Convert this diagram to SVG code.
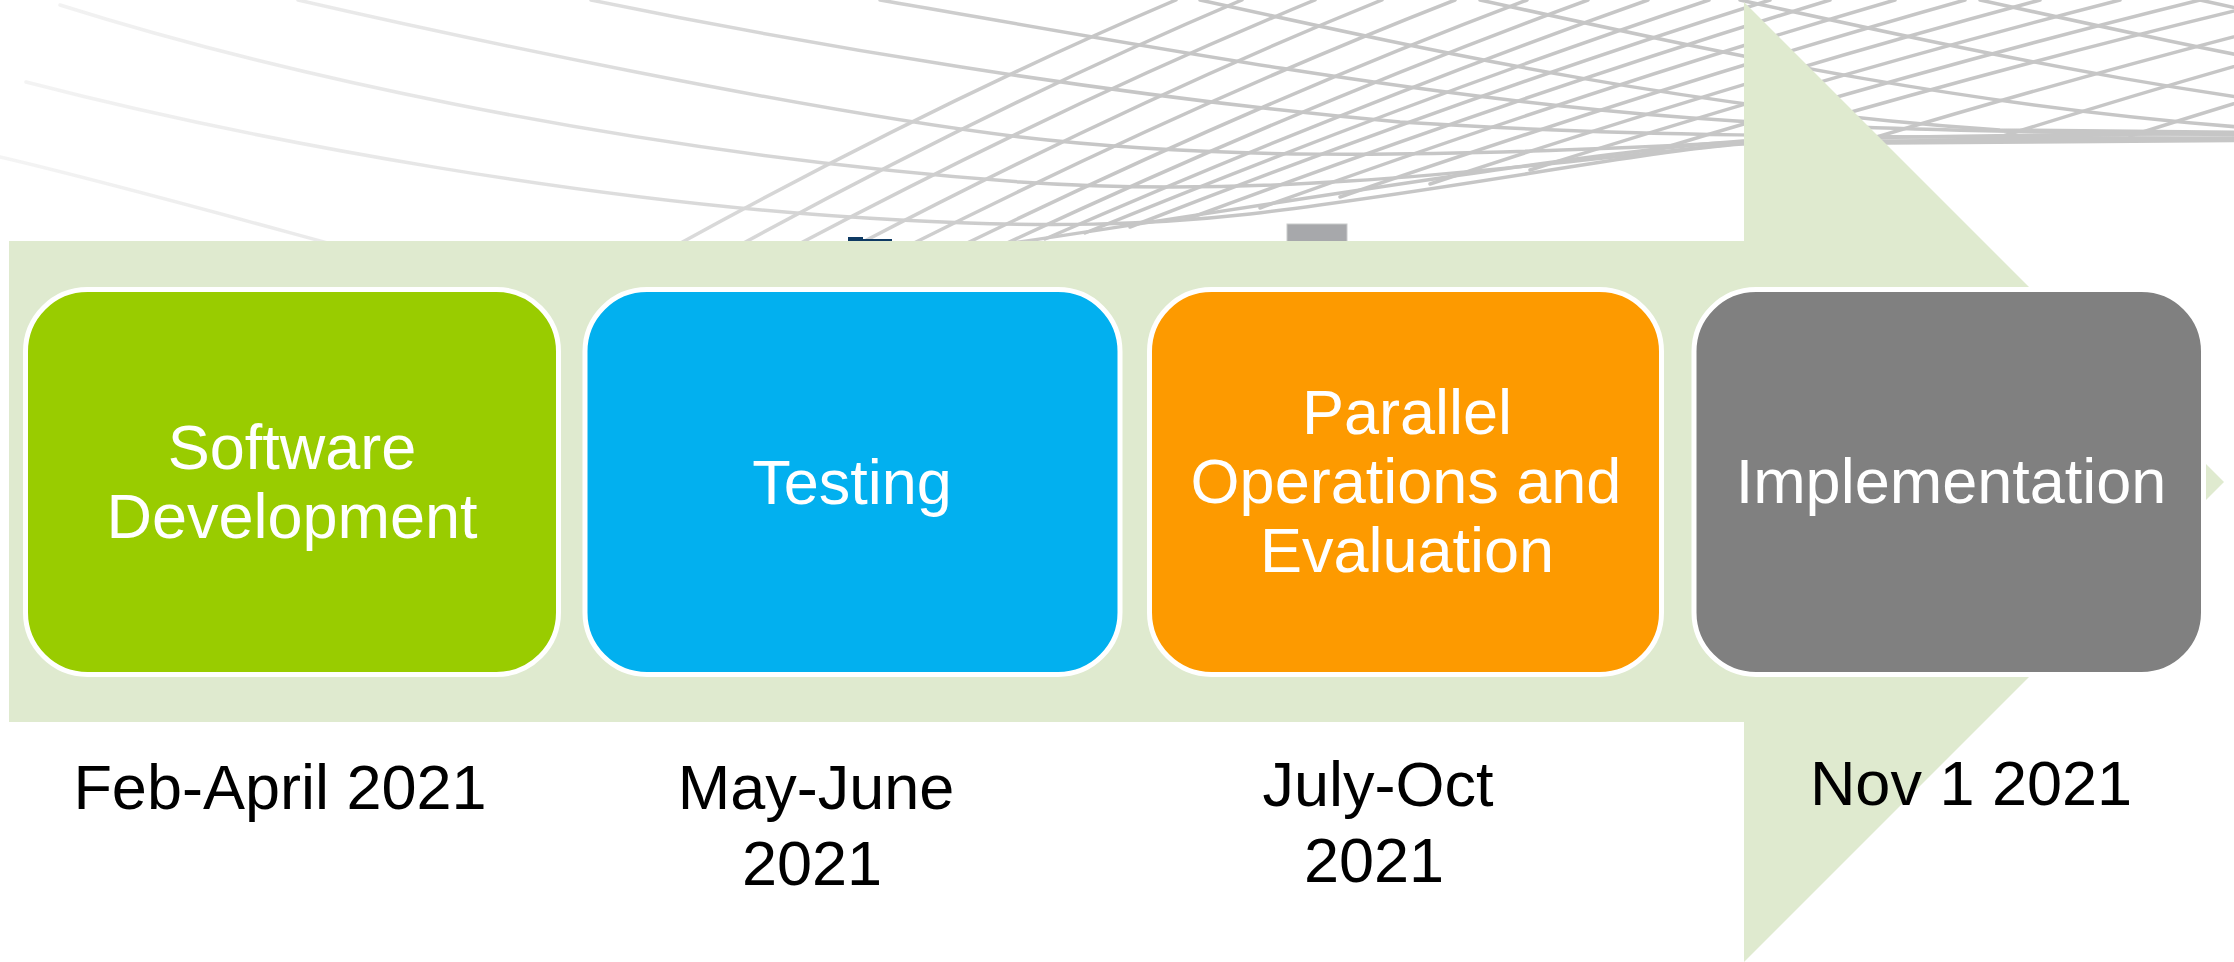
<svg xmlns="http://www.w3.org/2000/svg" width="2234" height="962" viewBox="0 0 2234 962">
  <defs>
    <linearGradient id="meshFade" gradientUnits="userSpaceOnUse" x1="0" y1="0" x2="1100" y2="0">
      <stop offset="0" stop-color="#F4F4F4"/>
      <stop offset="0.35" stop-color="#E8E8E8"/>
      <stop offset="0.7" stop-color="#D6D6D6"/>
      <stop offset="1" stop-color="#C6C6C6"/>
    </linearGradient>
  </defs>
  <style>
    .mesh path { fill: none; stroke: url(#meshFade); stroke-width: 3.5; stroke-linecap: round; }
    .box { stroke: #FFFFFF; stroke-width: 5; }
    .boxText { font-family: "Liberation Sans", Arial, sans-serif; font-size: 63px; fill: #FFFFFF; text-anchor: middle; }
    .dateText { font-family: "Liberation Sans", Arial, sans-serif; font-size: 63px; fill: #000000; text-anchor: middle; }
  </style>
  <rect x="0" y="0" width="2234" height="962" fill="#FFFFFF"/>

  <!-- decorative background mesh -->
  <g id="background-mesh" class="mesh">
    <!-- descending family -->
    <path d="M0,157 C120,185 260,225 420,268"/>
    <path d="M26,82 C250,140 600,205 900,220 C1050,228 1150,225 1250,214 C1450,190 1650,150 1743,144 L2300,140"/>
    <path d="M60,5 C250,65 600,150 1020,182 C1250,198 1450,175 1743,143 L2300,139"/>
    <path d="M298,0 C450,35 800,110 1020,137 C1200,158 1400,160 1743,142 L2300,138"/>
    <path d="M591,0 C800,43 1100,95 1400,122 C1600,135 1800,138 2300,138"/>
    <path d="M880,0 C1100,38 1350,85 1600,110 C1750,125 1900,132 2300,135"/>
    <path d="M1200,0 C1450,55 1700,110 2000,130 L2400,134"/>
    <path d="M1480,0 C1730,55 1980,110 2280,130 L2680,134"/>
    <path d="M1740,0 C1990,55 2240,110 2540,130"/>
    <path d="M1980,0 C2230,55 2480,110 2780,130"/>
    <path d="M2200,0 C2450,55 2700,110 3000,130"/>
    <!-- lower envelope -->
    <path d="M1000,245 C1300,200 1600,150 1743,141 C1900,136 2100,134 2300,133"/>
    <!-- ascending family -->
    <path d="M677,245 Q941,100 1176,0"/>
    <path d="M740,245 Q1006,100 1242,0"/>
    <path d="M797,245 Q1072,100 1315,0"/>
    <path d="M857,245 Q1135,100 1382,0"/>
    <path d="M910,245 Q1199,100 1455,0"/>
    <path d="M963,245 Q1262,100 1527,0"/>
    <path d="M1005,244 Q1314,100 1588,0"/>
    <path d="M1045,239 Q1365,100 1648,0"/>
    <path d="M1085,233 Q1416,98 1709,0"/>
    <path d="M1130,227 Q1469,95 1770,0"/>
    <path d="M1190,218 Q1529,92 1830,0"/>
    <path d="M1260,208 Q1597,87 1895,0"/>
    <path d="M1340,197 Q1671,83 1965,0"/>
    <path d="M1430,184 Q1753,77 2040,0"/>
    <path d="M1530,170 Q1843,71 2120,0"/>
    <path d="M1640,155 Q1937,65 2200,0"/>
    <path d="M1750,141 Q2031,59 2280,0"/>
    <path d="M1870,139 Q2140,58 2380,0"/>
    <path d="M2000,137 Q2254,57 2480,0"/>
    <path d="M2130,136 Q2379,57 2600,0"/>
  </g>

  <!-- slide remnants peeking above the arrow -->
  <g id="background-marks">
    <path d="M848,237 h15 v2 h29 v5 h-44 z" fill="#0E3A63"/>
    <rect x="1287" y="224" width="60" height="20" fill="#A7A8AB" stroke="#CACBCC" stroke-width="1"/>
  </g>

  <!-- timeline arrow -->
  <g id="connectors">
    <polygon id="timeline-arrow" points="9,241 1744,241 1744,2 2224,482 1744,962 1744,722 9,722" fill="#DFEACF"/>
  </g>

  <g id="node-software-development">
    <rect class="box" x="25.5" y="289.5" width="533" height="385" rx="62" ry="62" fill="#99CC00"/>
    <text class="boxText"><tspan x="292" y="469">Software</tspan><tspan x="292" y="538">Development</tspan></text>
  </g>

  <g id="node-testing">
    <rect class="box" x="585" y="289.5" width="535" height="385" rx="62" ry="62" fill="#02B0EF"/>
    <text class="boxText" x="852" y="504">Testing</text>
  </g>

  <g id="node-parallel-operations">
    <rect class="box" x="1149.5" y="289.5" width="512" height="385" rx="62" ry="62" fill="#FD9A00"/>
    <text class="boxText"><tspan x="1407" y="434">Parallel</tspan><tspan x="1406" y="503">Operations and</tspan><tspan x="1407" y="572">Evaluation</tspan></text>
  </g>

  <g id="node-implementation">
    <rect class="box" x="1694" y="289.5" width="509.5" height="385" rx="62" ry="62" fill="#808080"/>
    <text class="boxText" x="1951" y="503">Implementation</text>
  </g>

  <g id="date-labels">
    <text class="dateText" x="280" y="809">Feb-April 2021</text>
    <text class="dateText"><tspan x="816" y="809">May-June</tspan><tspan x="812" y="885">2021</tspan></text>
    <text class="dateText"><tspan x="1378" y="806">July-Oct</tspan><tspan x="1374" y="882">2021</tspan></text>
    <text class="dateText" x="1971" y="805">Nov 1 2021</text>
  </g>
</svg>
